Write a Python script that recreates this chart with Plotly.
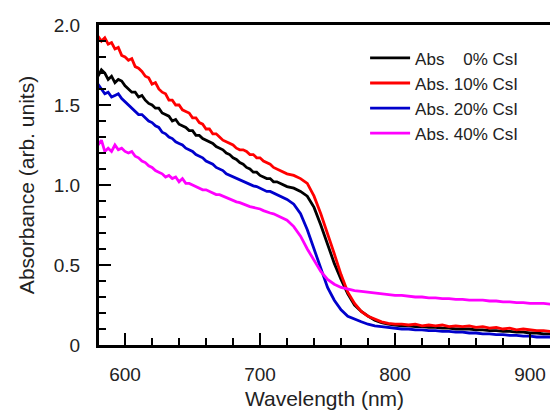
import plotly.graph_objects as go

wavelength = [
    580, 582.5, 585, 587.5, 590, 592.5, 595, 597.5, 600, 602.5,
    605, 607.5, 610, 612.5, 615, 617.5, 620, 622.5, 625, 627.5,
    630, 632.5, 635, 637.5, 640, 642.5, 645, 647.5, 650, 652.5,
    655, 657.5, 660, 662.5, 665, 667.5, 670, 672.5, 675, 677.5,
    680, 682.5, 685, 687.5, 690, 692.5, 695, 697.5, 700, 702.5,
    705, 707.5, 710, 712.5, 715, 717.5, 720,
    725, 730, 735, 740, 745, 750, 755, 760, 765, 770,
    775, 780, 785, 790, 795, 800, 805, 810, 815, 820,
    825, 830, 835, 840, 845, 850, 855, 860, 865, 870,
    875, 880, 885, 890, 895, 900, 905, 910, 915,
]

abs_0 = [
    1.68, 1.72, 1.70, 1.66, 1.68, 1.64, 1.66, 1.65, 1.62, 1.60,
    1.58, 1.58, 1.55, 1.56, 1.53, 1.51, 1.50, 1.48, 1.48, 1.45,
    1.44, 1.43, 1.40, 1.41, 1.38, 1.37, 1.36, 1.34, 1.34, 1.31,
    1.31, 1.29, 1.28, 1.27, 1.26, 1.24, 1.23, 1.22, 1.20, 1.19,
    1.17, 1.16, 1.14, 1.13, 1.11, 1.10, 1.08, 1.08, 1.06, 1.05,
    1.04, 1.04, 1.02, 1.02, 1.01, 1.00, 0.99,
    0.98, 0.96, 0.93, 0.86, 0.75, 0.63, 0.51, 0.41, 0.32, 0.25,
    0.21, 0.18, 0.155, 0.14, 0.13, 0.125, 0.12, 0.12, 0.115, 0.115,
    0.11, 0.11, 0.105, 0.105, 0.10, 0.10, 0.10, 0.095, 0.095, 0.09,
    0.09, 0.085, 0.085, 0.08, 0.08, 0.075, 0.075, 0.07, 0.07,
]

abs_10 = [
    1.93, 1.90, 1.92, 1.88, 1.89, 1.85, 1.86, 1.81, 1.80, 1.78,
    1.79, 1.74, 1.73, 1.71, 1.68, 1.67, 1.63, 1.64, 1.60, 1.58,
    1.57, 1.53, 1.53, 1.50, 1.50, 1.47, 1.46, 1.45, 1.42, 1.42,
    1.39, 1.38, 1.35, 1.35, 1.32, 1.32, 1.30, 1.28, 1.27, 1.26,
    1.25, 1.23, 1.22, 1.22, 1.21, 1.19, 1.19, 1.17, 1.17, 1.15,
    1.14, 1.13, 1.11, 1.10, 1.09, 1.08, 1.07,
    1.06, 1.04, 1.01, 0.93, 0.82, 0.70, 0.57, 0.44, 0.33, 0.26,
    0.21, 0.18, 0.16, 0.145, 0.135, 0.13, 0.13, 0.125, 0.13, 0.12,
    0.125, 0.12, 0.125, 0.115, 0.12, 0.115, 0.12, 0.11, 0.115, 0.105,
    0.11, 0.10, 0.105, 0.095, 0.10, 0.095, 0.09, 0.09, 0.085,
]

abs_20 = [
    1.63, 1.60, 1.57, 1.58, 1.55, 1.56, 1.57, 1.54, 1.52, 1.50,
    1.48, 1.46, 1.44, 1.44, 1.42, 1.40, 1.39, 1.37, 1.36, 1.33,
    1.32, 1.30, 1.29, 1.27, 1.26, 1.25, 1.23, 1.22, 1.21, 1.19,
    1.18, 1.17, 1.15, 1.14, 1.13, 1.11, 1.10, 1.09, 1.07, 1.06,
    1.05, 1.04, 1.03, 1.02, 1.01, 1.00, 0.995, 0.99, 0.98, 0.97,
    0.96, 0.96, 0.95, 0.94, 0.93, 0.92, 0.91,
    0.88, 0.82, 0.72, 0.60, 0.47, 0.36, 0.28, 0.22, 0.18, 0.16,
    0.145, 0.13, 0.12, 0.115, 0.11, 0.105, 0.10, 0.10, 0.095, 0.095,
    0.09, 0.09, 0.085, 0.085, 0.08, 0.08, 0.075, 0.075, 0.07, 0.07,
    0.065, 0.065, 0.06, 0.06, 0.055, 0.055, 0.05, 0.05, 0.05,
]

abs_40 = [
    1.25, 1.28, 1.21, 1.23, 1.21, 1.25, 1.22, 1.23, 1.21, 1.20,
    1.21, 1.18, 1.17, 1.15, 1.14, 1.12, 1.11, 1.09, 1.08, 1.07,
    1.05, 1.06, 1.04, 1.05, 1.02, 1.04, 1.01, 1.01, 1.00, 0.99,
    0.98, 0.97, 0.97, 0.96, 0.95, 0.94, 0.94, 0.93, 0.92, 0.91,
    0.90, 0.895, 0.89, 0.88, 0.87, 0.865, 0.86, 0.855, 0.85, 0.84,
    0.83, 0.825, 0.82, 0.81, 0.80, 0.79, 0.78,
    0.74, 0.68, 0.60, 0.53, 0.46, 0.41, 0.38, 0.36, 0.35, 0.34,
    0.335, 0.33, 0.325, 0.32, 0.315, 0.31, 0.31, 0.305, 0.30, 0.30,
    0.295, 0.295, 0.29, 0.29, 0.285, 0.285, 0.28, 0.28, 0.28, 0.275,
    0.275, 0.27, 0.27, 0.265, 0.265, 0.26, 0.26, 0.26, 0.255,
]

series_names = ["Abs\u00a0\u00a0\u00a0\u00a00% CsI", "Abs. 10% CsI", "Abs. 20% CsI", "Abs. 40% CsI"]
series_values = [abs_0, abs_10, abs_20, abs_40]
series_colors = ["#000000", "#ff0000", "#0000cc", "#ff00ff"]

x_tickvals = [600, 700, 800, 900]
x_ticktext = ["600", "700", "800", "900"]
y_tickvals = [0, 0.5, 1.0, 1.5, 2.0]
y_ticktext = ["0", "0.5", "1.0", "1.5", "2.0"]

FONT = "Liberation Sans, Arial, sans-serif"
TXT = "#222222"

fig = go.Figure()
for name, vals, col in zip(series_names, series_values, series_colors):
    fig.add_trace(go.Scatter(x=wavelength, y=vals, mode="lines", name=name,
                             line=dict(color=col, width=2.8)))

fig.update_layout(
    width=550, height=410,
    margin=dict(l=99, r=0, t=25, b=65),
    paper_bgcolor="white", plot_bgcolor="white",
    font=dict(family=FONT, color=TXT),
    showlegend=True,
    legend=dict(x=0.59, y=0.952, xanchor="left", yanchor="top",
                bgcolor="rgba(0,0,0,0)", font=dict(size=17, family=FONT, color=TXT),
                itemwidth=40, tracegroupgap=0),
)

fig.update_xaxes(
    range=[580.7, 914.8], showgrid=False, zeroline=False,
    showline=True, linecolor="black", linewidth=3, mirror=True,
    ticks="inside", ticklen=12, tickwidth=2, tickcolor="black",
    tickvals=x_tickvals, ticktext=x_ticktext,
    tickfont=dict(size=19, family=FONT, color=TXT),
    ticklabelstandoff=10,
    minor=dict(ticks="inside", ticklen=7, tickwidth=2, tickcolor="black", dtick=20, tick0=600, showgrid=False),
    title=dict(text="Wavelength (nm)", font=dict(size=21, family=FONT, color=TXT), standoff=12),
)
fig.update_yaxes(
    range=[0, 2.0], showgrid=False, zeroline=False,
    showline=True, linecolor="black", linewidth=3, mirror=False,
    ticks="inside", ticklen=12, tickwidth=2, tickcolor="black",
    tickvals=y_tickvals, ticktext=y_ticktext,
    tickfont=dict(size=19, family=FONT, color=TXT),
    ticklabelstandoff=12,
    minor=dict(ticks="inside", ticklen=7, tickwidth=2, tickcolor="black", dtick=0.1, tick0=0, showgrid=False),
    title=dict(text="Absorbance (arb. units)", font=dict(size=21, family=FONT, color=TXT), standoff=14),
)

fig.write_html("out.html")
